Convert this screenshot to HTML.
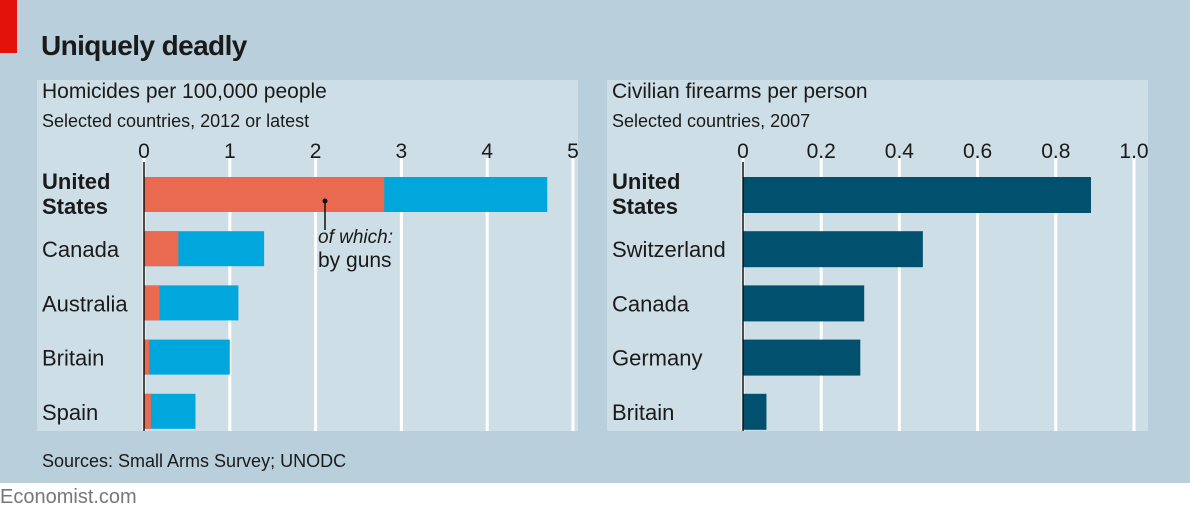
<!DOCTYPE html>
<html><head><meta charset="utf-8">
<style>
body{margin:0;width:1190px;height:516px;background:#fff;overflow:hidden;font-family:"Liberation Sans Narrow","Liberation Sans",sans-serif;}
svg text{font-family:"Liberation Sans Narrow","Liberation Sans",sans-serif;fill:#1a1a1a;}
</style></head><body>
<svg id="c" width="1190" height="516" xmlns="http://www.w3.org/2000/svg">
<rect x="0" y="0" width="1190" height="483" fill="#b9d0dc"/>
<rect x="0" y="0" width="17" height="53" fill="#e3120b"/>
<text x="41" y="55" font-size="28" font-weight="bold" letter-spacing="-0.6">Uniquely deadly</text>
<rect x="37" y="80" width="541" height="351" fill="#cddee7"/>
<rect x="607" y="80" width="541" height="351" fill="#cddee7"/>
<text x="42" y="98" font-size="21">Homicides per 100,000 people</text>
<text x="42" y="127" font-size="18">Selected countries, 2012 or latest</text>
<text x="612" y="98" font-size="21">Civilian firearms per person</text>
<text x="612" y="127" font-size="18">Selected countries, 2007</text>
<g id="left"></g><g id="right"></g>
<text x="42" y="467" font-size="18">Sources: Small Arms Survey; UNODC</text>
<text x="0" y="503" font-size="20" fill="#777" style="fill:#777">Economist.com</text>
</svg>
<script>
const leftCountries=["United States","Canada","Australia","Britain","Spain"];
const totalHomicides=[4.7,1.4,1.1,1.0,0.6];
const gunHomicides=[2.8,0.4,0.18,0.06,0.08];
const leftTicks=[0,1,2,3,4,5];
const rightCountries=["United States","Switzerland","Canada","Germany","Britain"];
const firearms=[0.89,0.46,0.31,0.30,0.06];
const rightTicks=["0","0.2","0.4","0.6","0.8","1.0"];
const NS="http://www.w3.org/2000/svg";
function mk(p,t,a){const e=document.createElementNS(NS,t);for(const k in a)e.setAttribute(k,a[k]);p.appendChild(e);return e;}
const yBand=i=>177+i*54.2;
function drawPanel(g,x0,scale,ticks,tickVals,countries,labelX){
  ticks.forEach((t,i)=>{const x=x0+tickVals[i]*scale;
    const l=mk(g,'line',{x1:x,x2:x,y1:158,y2:431,stroke:'#fff','stroke-width':3});
    
    
    const tx=mk(g,'text',{x:x,y:158,'font-size':21,'text-anchor':'middle'});tx.textContent=t;
    
    
  });
  countries.forEach((c,i)=>{const y=yBand(i);
    if(c==="United States"){
      const t1=mk(g,'text',{x:labelX,y:y+12,'font-size':22,'font-weight':'bold'});t1.textContent="United";
      
      
      const t2=mk(g,'text',{x:labelX,y:y+37,'font-size':22,'font-weight':'bold'});t2.textContent="States";
      
      
    } else {
      const t=mk(g,'text',{x:labelX,y:y+26,'font-size':22});t.textContent=c;
      
      
    }
  });
}
const L=document.getElementById('left'),R=document.getElementById('right');
const lx0=144,ls=85.8;
drawPanel(L,lx0,ls,leftTicks.map(String),leftTicks,leftCountries,42);
leftCountries.forEach((c,i)=>{const y=yBand(i);
  const b=mk(L,'rect',{x:lx0,y:y,width:totalHomicides[i]*ls,height:35,fill:'#00a7dc'});
  
  
  const g=mk(L,'rect',{x:lx0,y:y,width:gunHomicides[i]*ls,height:35,fill:'#e96a50'});
  
  
});
let ax=mk(L,'line',{x1:lx0,x2:lx0,y1:162,y2:431,stroke:'#111','stroke-width':1.5});


const ann=mk(L,'g',{});


mk(ann,'circle',{cx:325,cy:201,r:2.5,fill:'#111'});
mk(ann,'line',{x1:325,x2:325,y1:201,y2:230,stroke:'#111','stroke-width':1.5});
let a1=mk(ann,'text',{x:318,y:243,'font-size':19,'font-style':'italic'});a1.textContent="of which:";
let a2=mk(ann,'text',{x:318,y:267,'font-size':21});a2.textContent="by guns";
const rx0=743,rs=391;
drawPanel(R,rx0,rs,rightTicks,rightTicks.map(Number),rightCountries,612);
rightCountries.forEach((c,i)=>{const y=yBand(i);
  const b=mk(R,'rect',{x:rx0,y:y,width:firearms[i]*rs,height:36,fill:'#01506e'});
  
  
});
ax=mk(R,'line',{x1:rx0,x2:rx0,y1:162,y2:431,stroke:'#111','stroke-width':1.5});


</script>
</body></html>
